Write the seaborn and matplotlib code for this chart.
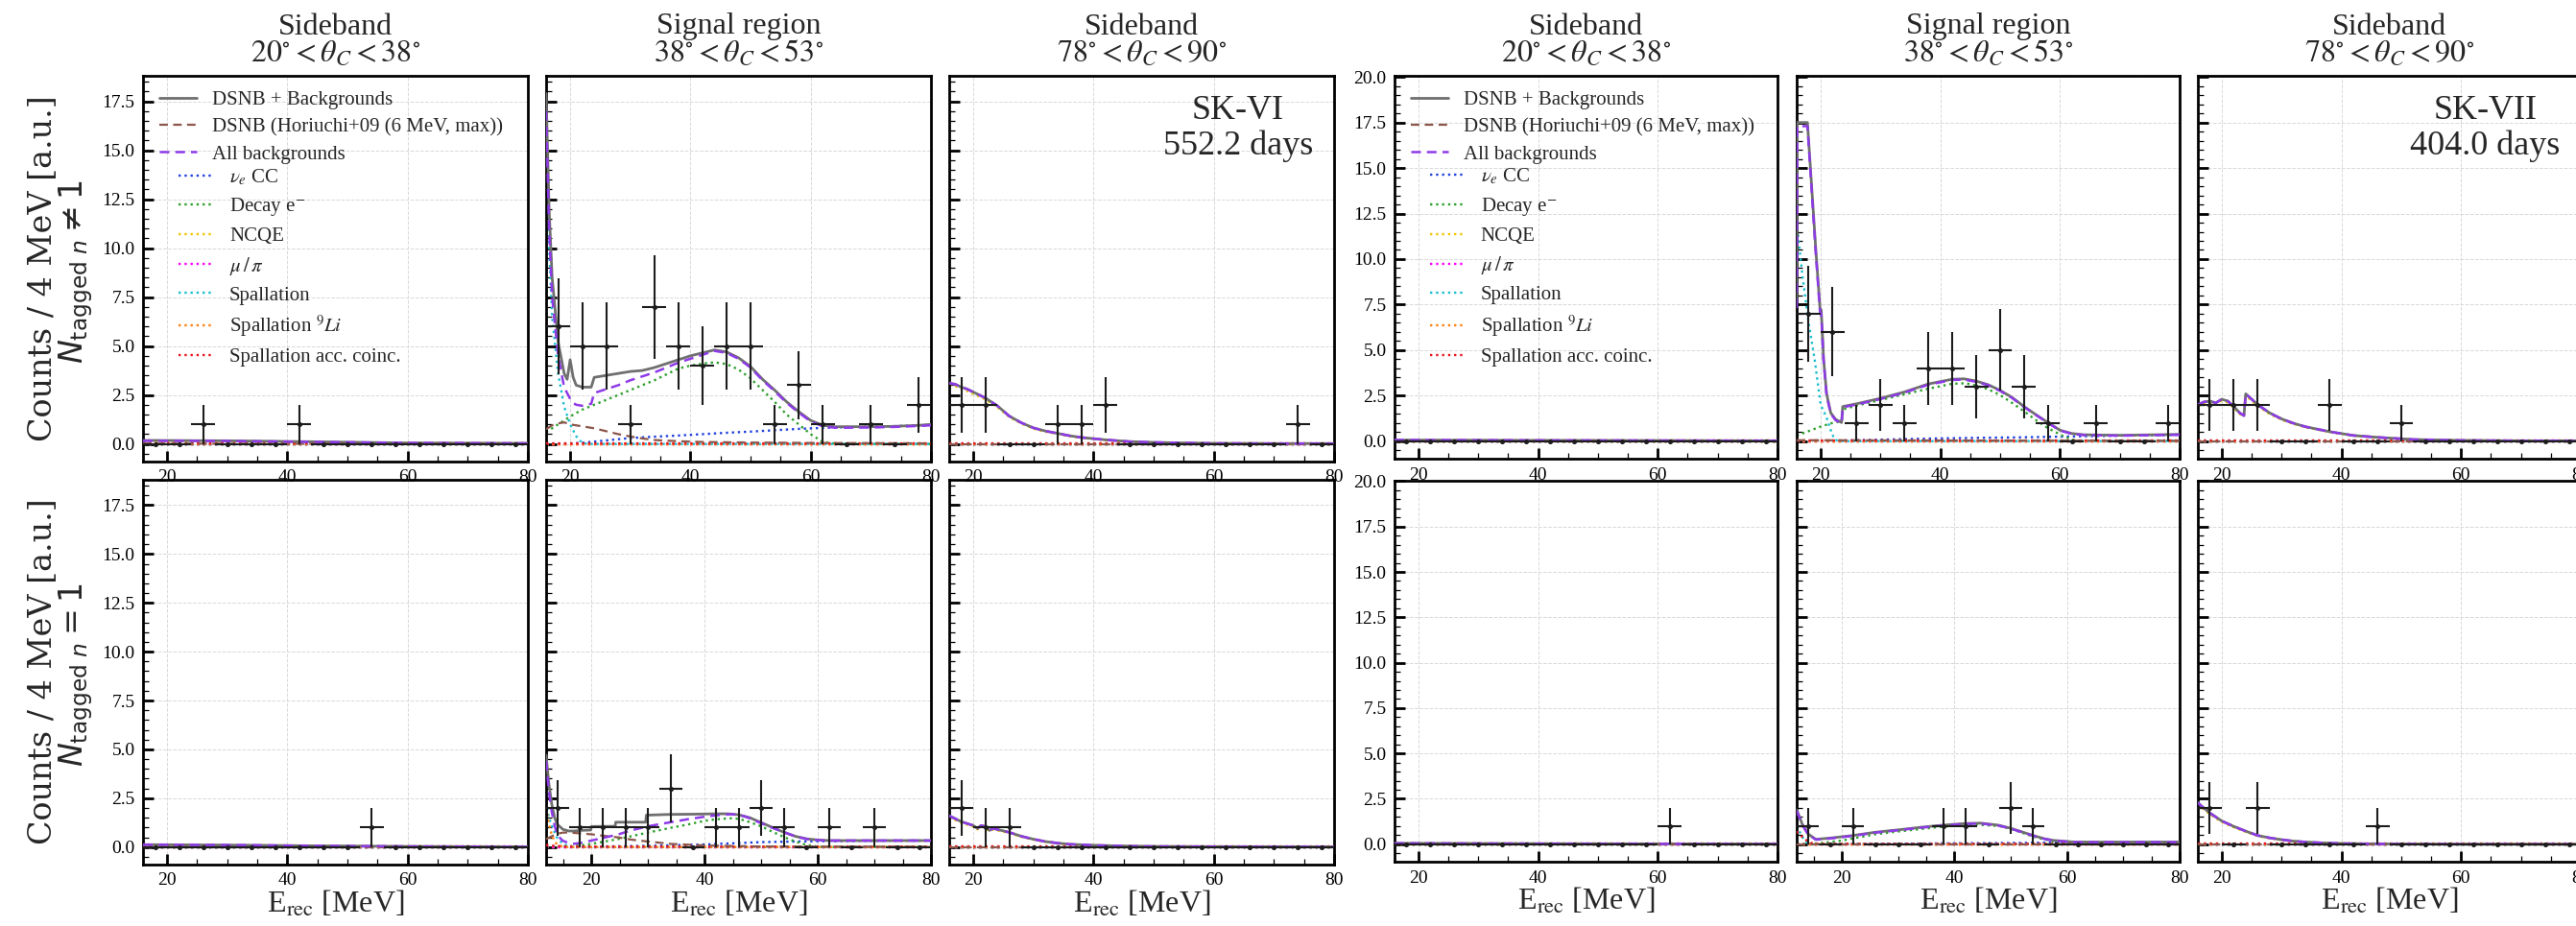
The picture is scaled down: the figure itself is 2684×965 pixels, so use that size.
import numpy as np
import matplotlib
matplotlib.use("Agg")
import matplotlib.pyplot as plt
from matplotlib.ticker import MultipleLocator, FormatStrFormatter
import seaborn as sns

sns.set_theme(style="ticks")
plt.rcParams["font.family"] = ["Liberation Serif", "DejaVu Serif"]
plt.rcParams["mathtext.fontset"] = "stix"

# ---------------- bin centres of the 4 MeV energy bins ----------------
E_BINS = [18, 22, 26, 30, 34, 38, 42, 46, 50, 54, 58, 62, 66, 70, 74, 78]
E_BINS_LOW = [14, 18, 22, 26, 30, 34, 38, 42, 46, 50, 54, 58, 62, 66, 70, 74, 78]

# ---------------- observed counts ----------------
# SK-VI (552.2 days)
sk6_sbA_multi = [0, 0, 1, 0, 0, 0, 1, 0, 0, 0, 0, 0, 0, 0, 0, 0]
sk6_sig_multi = [6, 5, 5, 1, 7, 5, 4, 5, 5, 1, 3, 1, 0, 1, 0, 2]
sk6_sbB_multi = [2, 2, 0, 0, 1, 1, 2, 0, 0, 0, 0, 0, 0, 0, 1, 0]
sk6_sbA_one = [0, 0, 0, 0, 0, 0, 0, 0, 0, 1, 0, 0, 0, 0, 0, 0]
sk6_sig_one = [2, 1, 1, 1, 1, 3, 0, 1, 1, 2, 1, 0, 1, 0, 1, 0, 0]
sk6_sbB_one = [2, 1, 1, 0, 0, 0, 0, 0, 0, 0, 0, 0, 0, 0, 0, 0]
# SK-VII (404.0 days)
sk7_sbA_multi = [0, 0, 0, 0, 0, 0, 0, 0, 0, 0, 0, 0, 0, 0, 0, 0]
sk7_sig_multi = [7, 6, 1, 2, 1, 4, 4, 3, 5, 3, 1, 0, 1, 0, 0, 1]
sk7_sbB_multi = [2, 2, 2, 0, 0, 2, 0, 0, 1, 0, 0, 0, 0, 0, 0, 0]
sk7_sbA_one = [0, 0, 0, 0, 0, 0, 0, 0, 0, 0, 0, 1, 0, 0, 0, 0]
sk7_sig_one = [1, 0, 1, 0, 0, 0, 1, 1, 0, 2, 1, 0, 0, 0, 0, 0, 0]
sk7_sbB_one = [2, 0, 2, 0, 0, 0, 0, 1, 0, 0, 0, 0, 0, 0, 0, 0]

# ---------------- expected spectra ----------------
FLAT_E = [16, 80]
FLAT_E_LOW = [12, 80]
ZERO = [0.0, 0.0]
ACC_LEVEL = [0.03, 0.03]

# SK-VI, sideband 20-38 deg, N_tagged != 1
sk6_sbA_multi_E = [16, 30, 45, 60, 80]
sk6_sbA_multi_bkg = [0.16, 0.15, 0.10, 0.05, 0.03]
sk6_sbA_multi_tot = [0.18, 0.16, 0.11, 0.05, 0.03]
sk6_sbA_multi_ncqe = [0.12, 0.11, 0.08, 0.04, 0.02]
sk6_sbA_multi_dsnb = [0.02, 0.01, 0.01, 0.0, 0.0]

# SK-VI, signal region, N_tagged != 1
sk6_sig_multi_E = [16.0, 16.5, 17.0, 18.0, 19.0, 19.5, 20.0, 20.5, 21.0, 22.0, 23.5, 24.0,
                   26.0, 28.0, 30.0, 32.0, 34.0, 36.0, 38.0, 40.0, 42.0, 44.0, 46.0, 48.0,
                   50.0, 52.0, 54.0, 56.0, 58.0, 60.0, 62.0, 64.0, 66.0, 70.0, 74.0, 78.0, 80.0]
sk6_sig_multi_tot = [17.9, 12.0, 8.5, 5.2, 3.6, 3.3, 4.3, 3.4, 3.0, 2.9, 2.9, 3.4,
                     3.5, 3.6, 3.7, 3.75, 3.9, 4.1, 4.3, 4.5, 4.65, 4.8, 4.7, 4.4,
                     3.95, 3.3, 2.75, 2.15, 1.65, 1.2, 0.95, 0.88, 0.88, 0.88, 0.9, 0.95, 1.0]
sk6_sig_multi_bkg = [17.0, 11.0, 7.5, 4.5, 2.9, 2.6, 2.3, 2.1, 2.0, 1.95, 2.05, 2.6,
                     2.8, 3.0, 3.25, 3.45, 3.65, 3.9, 4.15, 4.35, 4.55, 4.75, 4.65, 4.35,
                     3.9, 3.25, 2.7, 2.1, 1.6, 1.15, 0.9, 0.83, 0.83, 0.84, 0.87, 0.92, 0.95]
sk6_sig_multi_dsnb_E = [16, 17, 18, 19, 20, 22, 24, 26, 28, 30, 32, 34, 38, 42, 50, 60, 70, 80]
sk6_sig_multi_dsnb = [0.75, 0.95, 1.05, 1.1, 1.0, 0.9, 0.8, 0.65, 0.5, 0.38, 0.28, 0.2,
                      0.14, 0.1, 0.07, 0.05, 0.04, 0.03]
sk6_sig_multi_spall_E = [16.0, 16.5, 17.0, 18.0, 19.0, 20.0, 21.0, 22.0, 23.0, 80.0]
sk6_sig_multi_spall = [16.5, 10.0, 6.5, 3.6, 1.9, 1.0, 0.4, 0.05, 0.0, 0.0]
sk6_sig_multi_decay_E = [16, 18, 20, 22, 24, 26, 28, 30, 32, 34, 36, 38, 40, 42, 44, 46, 48,
                         50, 52, 54, 56, 58, 60, 62, 64, 66, 80]
sk6_sig_multi_decay = [0.6, 1.0, 1.4, 1.75, 2.0, 2.25, 2.5, 2.75, 3.0, 3.25, 3.55, 3.85, 4.0,
                       4.1, 4.17, 4.08, 3.8, 3.35, 2.75, 2.15, 1.5, 1.0, 0.5, 0.1, 0.02, 0.0, 0.0]
sk6_sig_multi_nue_E = [16, 20, 22, 26, 30, 34, 38, 42, 46, 50, 54, 58, 62, 66, 70, 74, 78, 80]
sk6_sig_multi_nue = [0.0, 0.02, 0.06, 0.18, 0.3, 0.37, 0.43, 0.5, 0.57, 0.63, 0.7, 0.77,
                     0.82, 0.86, 0.88, 0.91, 0.95, 0.97]

# SK-VI, sideband 78-90 deg, N_tagged != 1
sk6_sbB_multi_E = [16, 17, 18, 19, 20, 21, 22, 23, 24, 26, 28, 30, 32, 34, 36, 38, 40, 42,
                   46, 50, 55, 60, 70, 80]
sk6_sbB_multi_bkg = [3.1, 3.05, 2.9, 2.8, 2.65, 2.5, 2.35, 2.15, 1.95, 1.42, 1.08, 0.82,
                     0.66, 0.54, 0.42, 0.33, 0.27, 0.21, 0.12, 0.08, 0.05, 0.03, 0.02, 0.02]
sk6_sbB_multi_ncqe = [3.0, 2.95, 2.8, 2.7, 2.55, 2.42, 2.27, 2.08, 1.88, 1.37, 1.04, 0.78,
                      0.62, 0.51, 0.4, 0.31, 0.25, 0.19, 0.11, 0.07, 0.04, 0.02, 0.01, 0.01]

# SK-VI, sideband 20-38 deg, N_tagged = 1
sk6_sbA_one_E = [16, 30, 45, 60, 80]
sk6_sbA_one_bkg = [0.12, 0.10, 0.06, 0.03, 0.01]
sk6_sbA_one_ncqe = [0.09, 0.07, 0.04, 0.02, 0.01]

# SK-VI, signal region, N_tagged = 1
sk6_sig_one_E = [12.0, 12.5, 13.0, 13.5, 14.0, 15.0, 16.0, 17.0, 18.0, 19.9, 20.0, 24.2,
                 24.3, 29.6, 29.7, 34.0, 38.0, 42.0, 44.0, 45.0, 46.0, 48.0, 50.0, 52.0,
                 54.0, 56.0, 58.0, 60.0, 62.0, 70.0, 80.0]
sk6_sig_one_tot = [4.7, 3.2, 2.2, 1.5, 1.15, 0.9, 0.82, 0.82, 0.85, 0.87, 1.05, 1.06,
                   1.27, 1.27, 1.63, 1.67, 1.68, 1.7, 1.7, 1.68, 1.65, 1.5, 1.25, 1.0,
                   0.76, 0.55, 0.42, 0.36, 0.33, 0.33, 0.33]
sk6_sig_one_bkg_E = [12.0, 12.5, 13.0, 13.5, 14.0, 14.9, 16.0, 16.7, 18.0, 20.0, 22.0, 24.8,
                     27.0, 30.0, 34.0, 37.0, 40.0, 42.0, 44.6, 46.0, 47.3, 50.0, 52.0, 54.2,
                     56.0, 58.0, 60.0, 62.0, 80.0]
sk6_sig_one_bkg = [4.4, 2.8, 1.8, 1.1, 0.6, 0.33, 0.2, 0.16, 0.2, 0.33, 0.46, 0.65,
                   0.85, 1.06, 1.27, 1.42, 1.55, 1.62, 1.68, 1.65, 1.55, 1.22, 0.98, 0.74,
                   0.55, 0.41, 0.35, 0.33, 0.33]
sk6_sig_one_dsnb_E = [12, 13, 14, 15, 16, 17, 18, 20, 22, 24.8, 27, 30, 34, 40, 49, 60, 80]
sk6_sig_one_dsnb = [0.41, 0.55, 0.68, 0.74, 0.74, 0.72, 0.7, 0.65, 0.58, 0.49, 0.38, 0.28,
                    0.16, 0.08, 0.03, 0.02, 0.01]
sk6_sig_one_decay_E = [12, 16, 18, 20, 22, 24.8, 27, 30, 34, 37, 40, 42, 44.6, 46, 47.3, 50,
                       52, 54.2, 56, 58, 60, 62, 80]
sk6_sig_one_decay = [0.0, 0.03, 0.08, 0.16, 0.26, 0.41, 0.55, 0.74, 0.98, 1.15, 1.34, 1.42,
                     1.47, 1.44, 1.34, 1.06, 0.78, 0.49, 0.28, 0.11, 0.02, 0.0, 0.0]
sk6_sig_one_nue_E = [12, 20, 30, 40, 50, 58, 70, 80]
sk6_sig_one_nue = [0.0, 0.02, 0.06, 0.13, 0.25, 0.29, 0.32, 0.33]
sk6_sig_one_li9_E = [12.0, 12.5, 13.0, 13.5, 14.0, 15.0, 16.0, 80.0]
sk6_sig_one_li9 = [2.0, 1.2, 0.6, 0.3, 0.1, 0.02, 0.0, 0.0]
sk6_sig_one_spall_E = [12.0, 12.5, 13.0, 13.5, 14.0, 15.0, 16.0, 17.0, 80.0]
sk6_sig_one_spall = [2.3, 1.5, 1.1, 0.75, 0.45, 0.15, 0.05, 0.0, 0.0]
sk6_sig_one_acc_E = [12, 14, 16, 80]
sk6_sig_one_acc = [0.1, 0.05, 0.02, 0.02]

# SK-VI, sideband 78-90 deg, N_tagged = 1
sk6_sbB_one_E = [16, 17, 18, 19, 20, 20.7, 21.3, 22, 22.7, 23.3, 24, 26, 28, 30, 32, 34, 36,
                 40, 45, 50, 60, 80]
sk6_sbB_one_bkg = [1.6, 1.45, 1.3, 1.2, 1.1, 0.95, 1.1, 1.05, 0.85, 0.95, 0.9, 0.75, 0.55,
                   0.4, 0.28, 0.2, 0.14, 0.09, 0.05, 0.03, 0.02, 0.01]
sk6_sbB_one_ncqe = [1.52, 1.38, 1.24, 1.14, 1.04, 0.9, 1.04, 0.99, 0.8, 0.9, 0.85, 0.71,
                    0.52, 0.38, 0.26, 0.19, 0.13, 0.08, 0.04, 0.02, 0.01, 0.0]

# SK-VII, sideband 20-38 deg, N_tagged != 1
sk7_sbA_multi_E = [16, 40, 80]
sk7_sbA_multi_bkg = [0.06, 0.04, 0.02]

# SK-VII, signal region, N_tagged != 1
sk7_sig_multi_E = [16.0, 16.1, 17.8, 18.5, 19.2, 19.9, 20.1, 20.5, 21.0, 21.7, 22.5, 23.5,
                   23.7, 26.0, 30.0, 34.0, 38.0, 42.0, 44.0, 46.0, 48.0, 50.0, 52.0, 54.0,
                   56.0, 58.0, 60.0, 62.0, 64.0, 70.0, 80.0]
sk7_sig_multi_tot = [7.5, 17.5, 17.5, 14.0, 10.5, 7.3, 7.2, 4.5, 2.6, 1.55, 1.2, 1.02,
                     1.9, 2.05, 2.35, 2.7, 3.14, 3.4, 3.42, 3.3, 3.1, 2.79, 2.4, 1.9,
                     1.45, 1.02, 0.6, 0.42, 0.35, 0.32, 0.37]
sk7_sig_multi_bkg = [7.3, 17.3, 17.3, 13.8, 10.3, 7.1, 7.0, 4.4, 2.5, 1.5, 1.15, 0.98,
                     1.86, 2.01, 2.31, 2.66, 3.1, 3.36, 3.38, 3.26, 3.07, 2.76, 2.37, 1.88,
                     1.43, 1.0, 0.58, 0.4, 0.33, 0.3, 0.35]
sk7_sig_multi_spall_E = [16.0, 17.0, 18.0, 19.0, 20.0, 21.0, 21.7, 22.3, 23.0, 80.0]
sk7_sig_multi_spall = [12.0, 9.0, 6.5, 4.5, 2.0, 1.3, 0.6, 0.1, 0.0, 0.0]
sk7_sig_multi_decay_E = [16, 18, 20, 22, 23.5, 23.8, 26, 30, 34, 38, 42, 44.3, 46, 48, 50,
                         52, 54, 56, 58, 60.8, 62.5, 64, 80]
sk7_sig_multi_decay = [0.3, 0.55, 0.8, 1.0, 1.1, 1.75, 1.95, 2.26, 2.57, 2.88, 3.15, 3.18,
                       3.05, 2.85, 2.53, 2.1, 1.64, 1.15, 0.71, 0.23, 0.05, 0.0, 0.0]
sk7_sig_multi_nue_E = [16, 22, 30, 38, 46, 54, 62, 70, 80]
sk7_sig_multi_nue = [0.0, 0.02, 0.08, 0.14, 0.18, 0.21, 0.26, 0.3, 0.35]
sk7_sig_multi_dsnb_E = [16, 30, 50, 80]
sk7_sig_multi_dsnb = [0.05, 0.04, 0.03, 0.02]

# SK-VII, sideband 78-90 deg, N_tagged != 1
sk7_sbB_multi_E = [16, 17, 18, 19, 20, 21, 22, 23, 23.7, 24.0, 26, 28, 30, 32, 34, 38, 42,
                   46, 52, 60, 70, 80]
sk7_sbB_multi_bkg = [2.0, 2.15, 2.2, 2.1, 2.3, 2.2, 1.9, 1.55, 1.4, 2.6, 2.0, 1.55, 1.22,
                     0.98, 0.79, 0.52, 0.31, 0.21, 0.09, 0.04, 0.02, 0.02]
sk7_sbB_multi_ncqe = [1.92, 2.07, 2.12, 2.02, 2.21, 2.12, 1.83, 1.49, 1.35, 2.5, 1.93, 1.49,
                      1.17, 0.94, 0.76, 0.5, 0.3, 0.2, 0.08, 0.03, 0.01, 0.01]

# SK-VII, sideband 20-38 deg, N_tagged = 1
sk7_sbA_one_E = [16, 40, 80]
sk7_sbA_one_bkg = [0.05, 0.03, 0.01]

# SK-VII, signal region, N_tagged = 1
sk7_sig_one_E = [12, 13, 14, 15.4, 18, 22, 26, 30, 34, 38, 42, 44.7, 47.8, 50, 52, 54, 56,
                 57.6, 61.2, 70, 80]
sk7_sig_one_tot = [1.9, 1.1, 0.57, 0.27, 0.34, 0.48, 0.66, 0.79, 0.93, 1.05, 1.14, 1.16,
                   1.05, 0.88, 0.68, 0.48, 0.3, 0.21, 0.12, 0.12, 0.12]
sk7_sig_one_bkg = [1.85, 1.07, 0.55, 0.25, 0.32, 0.46, 0.64, 0.77, 0.91, 1.03, 1.12, 1.14,
                   1.03, 0.86, 0.66, 0.46, 0.29, 0.2, 0.11, 0.11, 0.11]
sk7_sig_one_decay_E = [12, 16, 20, 26, 30, 38, 44, 48, 50, 54, 58, 60, 80]
sk7_sig_one_decay = [0.0, 0.05, 0.2, 0.55, 0.7, 0.97, 1.08, 1.0, 0.85, 0.42, 0.12, 0.03, 0.0]
sk7_sig_one_acc_E = [12, 13, 14, 15, 80]
sk7_sig_one_acc = [0.7, 0.4, 0.15, 0.02, 0.02]
sk7_sig_one_spall_E = [12, 13, 14, 80]
sk7_sig_one_spall = [1.0, 0.4, 0.0, 0.0]
sk7_sig_one_nue_E = [12, 30, 50, 62, 80]
sk7_sig_one_nue = [0.0, 0.03, 0.07, 0.1, 0.12]

# SK-VII, sideband 78-90 deg, N_tagged = 1
sk7_sbB_one_E = [16, 16.4, 18, 20, 22, 24, 26, 28, 30, 32, 34, 37, 40, 45, 50, 60, 80]
sk7_sbB_one_bkg = [2.3, 2.16, 1.72, 1.28, 0.98, 0.72, 0.48, 0.35, 0.25, 0.17, 0.12, 0.07,
                   0.04, 0.02, 0.01, 0.0, 0.0]
sk7_sbB_one_ncqe = [2.22, 2.08, 1.65, 1.22, 0.93, 0.68, 0.45, 0.33, 0.23, 0.16, 0.11, 0.06,
                    0.03, 0.02, 0.01, 0.0, 0.0]

# ---------------- styles ----------------
ORDER = ["total", "dsnb", "bkg", "nue", "decay", "ncqe", "mupi", "spall", "li9", "acc"]
LABELS = {
    "total": "DSNB + Backgrounds",
    "dsnb": "DSNB (Horiuchi+09 (6 MeV, max))",
    "bkg": "All backgrounds",
    "nue": r"$\nu_e$ CC",
    "decay": r"Decay e$^{-}$",
    "ncqe": "NCQE",
    "mupi": r"$\mu\,/\,\pi$",
    "spall": "Spallation",
    "li9": r"Spallation $^{9}Li$",
    "acc": "Spallation acc. coinc.",
}
STYLES = {
    "total": dict(color="#6f6f6f", linestyle="-", linewidth=2.0, zorder=3),
    "dsnb": dict(color="#8c564b", linestyle=(0, (4, 2.5)), linewidth=1.6, zorder=3),
    "bkg": dict(color="#8e3ae8", linestyle=(0, (4, 2.5)), linewidth=1.8, zorder=3.5),
    "nue": dict(color="#2040e0", linestyle=":", linewidth=1.7, zorder=2.5),
    "decay": dict(color="#2ca02c", linestyle=":", linewidth=1.7, zorder=2.5),
    "ncqe": dict(color="#f2c500", linestyle=":", linewidth=1.7, zorder=2.5),
    "mupi": dict(color="#ff00ff", linestyle=":", linewidth=1.7, zorder=2.5),
    "spall": dict(color="#17becf", linestyle=":", linewidth=1.7, zorder=2.5),
    "li9": dict(color="#ff7f0e", linestyle=":", linewidth=1.7, zorder=2.5),
    "acc": dict(color="#e8141c", linestyle=":", linewidth=1.7, zorder=2.6),
}

TITLE_TOP = ["Sideband", "Signal region", "Sideband"]
TITLE_BOTTOM = [r"$20^{\circ} < \theta_C < 38^{\circ}$",
                r"$38^{\circ} < \theta_C < 53^{\circ}$",
                r"$78^{\circ} < \theta_C < 90^{\circ}$"]

# ---------------- panel definitions ----------------
panels = [
    # SK-VI
    dict(fig=0, row=0, col=0, xlim=(16, 80), bins=E_BINS, counts=sk6_sbA_multi,
         curves={"total": (sk6_sbA_multi_E, sk6_sbA_multi_tot),
                 "bkg": (sk6_sbA_multi_E, sk6_sbA_multi_bkg),
                 "ncqe": (sk6_sbA_multi_E, sk6_sbA_multi_ncqe),
                 "dsnb": (sk6_sbA_multi_E, sk6_sbA_multi_dsnb),
                 "acc": (FLAT_E, ACC_LEVEL)}),
    dict(fig=0, row=0, col=1, xlim=(16, 80), bins=E_BINS, counts=sk6_sig_multi,
         curves={"total": (sk6_sig_multi_E, sk6_sig_multi_tot),
                 "bkg": (sk6_sig_multi_E, sk6_sig_multi_bkg),
                 "dsnb": (sk6_sig_multi_dsnb_E, sk6_sig_multi_dsnb),
                 "spall": (sk6_sig_multi_spall_E, sk6_sig_multi_spall),
                 "decay": (sk6_sig_multi_decay_E, sk6_sig_multi_decay),
                 "nue": (sk6_sig_multi_nue_E, sk6_sig_multi_nue),
                 "acc": (FLAT_E, ACC_LEVEL)}),
    dict(fig=0, row=0, col=2, xlim=(16, 80), bins=E_BINS, counts=sk6_sbB_multi,
         curves={"total": (sk6_sbB_multi_E, sk6_sbB_multi_bkg),
                 "bkg": (sk6_sbB_multi_E, sk6_sbB_multi_bkg),
                 "ncqe": (sk6_sbB_multi_E, sk6_sbB_multi_ncqe),
                 "acc": (FLAT_E, ACC_LEVEL)},
         tag="SK-VI\n552.2 days"),
    dict(fig=0, row=1, col=0, xlim=(16, 80), bins=E_BINS, counts=sk6_sbA_one,
         curves={"total": (sk6_sbA_one_E, sk6_sbA_one_bkg),
                 "bkg": (sk6_sbA_one_E, sk6_sbA_one_bkg),
                 "ncqe": (sk6_sbA_one_E, sk6_sbA_one_ncqe),
                 "acc": (FLAT_E, ACC_LEVEL)}),
    dict(fig=0, row=1, col=1, xlim=(12, 80), bins=E_BINS_LOW, counts=sk6_sig_one,
         curves={"total": (sk6_sig_one_E, sk6_sig_one_tot),
                 "bkg": (sk6_sig_one_bkg_E, sk6_sig_one_bkg),
                 "dsnb": (sk6_sig_one_dsnb_E, sk6_sig_one_dsnb),
                 "decay": (sk6_sig_one_decay_E, sk6_sig_one_decay),
                 "nue": (sk6_sig_one_nue_E, sk6_sig_one_nue),
                 "li9": (sk6_sig_one_li9_E, sk6_sig_one_li9),
                 "spall": (sk6_sig_one_spall_E, sk6_sig_one_spall),
                 "acc": (sk6_sig_one_acc_E, sk6_sig_one_acc)}),
    dict(fig=0, row=1, col=2, xlim=(16, 80), bins=E_BINS, counts=sk6_sbB_one,
         curves={"total": (sk6_sbB_one_E, sk6_sbB_one_bkg),
                 "bkg": (sk6_sbB_one_E, sk6_sbB_one_bkg),
                 "ncqe": (sk6_sbB_one_E, sk6_sbB_one_ncqe),
                 "acc": (FLAT_E, ACC_LEVEL)}),
    # SK-VII
    dict(fig=1, row=0, col=0, xlim=(16, 80), bins=E_BINS, counts=sk7_sbA_multi,
         curves={"total": (sk7_sbA_multi_E, sk7_sbA_multi_bkg),
                 "bkg": (sk7_sbA_multi_E, sk7_sbA_multi_bkg),
                 "acc": (FLAT_E, ACC_LEVEL)}),
    dict(fig=1, row=0, col=1, xlim=(16, 80), bins=E_BINS, counts=sk7_sig_multi,
         curves={"total": (sk7_sig_multi_E, sk7_sig_multi_tot),
                 "bkg": (sk7_sig_multi_E, sk7_sig_multi_bkg),
                 "dsnb": (sk7_sig_multi_dsnb_E, sk7_sig_multi_dsnb),
                 "spall": (sk7_sig_multi_spall_E, sk7_sig_multi_spall),
                 "decay": (sk7_sig_multi_decay_E, sk7_sig_multi_decay),
                 "nue": (sk7_sig_multi_nue_E, sk7_sig_multi_nue),
                 "acc": (FLAT_E, ACC_LEVEL)}),
    dict(fig=1, row=0, col=2, xlim=(16, 80), bins=E_BINS, counts=sk7_sbB_multi,
         curves={"total": (sk7_sbB_multi_E, sk7_sbB_multi_bkg),
                 "bkg": (sk7_sbB_multi_E, sk7_sbB_multi_bkg),
                 "ncqe": (sk7_sbB_multi_E, sk7_sbB_multi_ncqe),
                 "acc": (FLAT_E, ACC_LEVEL)},
         tag="SK-VII\n404.0 days"),
    dict(fig=1, row=1, col=0, xlim=(16, 80), bins=E_BINS, counts=sk7_sbA_one,
         curves={"total": (sk7_sbA_one_E, sk7_sbA_one_bkg),
                 "bkg": (sk7_sbA_one_E, sk7_sbA_one_bkg),
                 "acc": (FLAT_E, ACC_LEVEL)}),
    dict(fig=1, row=1, col=1, xlim=(12, 80), bins=E_BINS_LOW, counts=sk7_sig_one,
         curves={"total": (sk7_sig_one_E, sk7_sig_one_tot),
                 "bkg": (sk7_sig_one_E, sk7_sig_one_bkg),
                 "decay": (sk7_sig_one_decay_E, sk7_sig_one_decay),
                 "acc": (sk7_sig_one_acc_E, sk7_sig_one_acc),
                 "spall": (sk7_sig_one_spall_E, sk7_sig_one_spall),
                 "nue": (sk7_sig_one_nue_E, sk7_sig_one_nue)}),
    dict(fig=1, row=1, col=2, xlim=(16, 80), bins=E_BINS, counts=sk7_sbB_one,
         curves={"total": (sk7_sbB_one_E, sk7_sbB_one_bkg),
                 "bkg": (sk7_sbB_one_E, sk7_sbB_one_bkg),
                 "ncqe": (sk7_sbB_one_E, sk7_sbB_one_ncqe),
                 "acc": (FLAT_E, ACC_LEVEL)}),
]

# ---------------- page geometry (pixels) ----------------
W, H = 2684, 965
COLS = [[(149, 550), (569, 970), (989, 1390)],
        [(1453, 1852), (1872, 2271), (2290, 2689)]]
ROWS = [[(79, 481), (500, 901)],
        [(79.3, 478.3), (500.5, 898.3)]]
YLIMS = [(-0.9, 18.8), (-0.98, 20.05)]

fig = plt.figure(figsize=(W / 100, H / 100), dpi=100)
fig.patch.set_facecolor("white")


def add_px_axes(x0, x1, y0, y1):
    return fig.add_axes([x0 / W, 1 - y1 / H, (x1 - x0) / W, (y1 - y0) / H])


for p in panels:
    (x0, x1) = COLS[p["fig"]][p["col"]]
    (y0, y1) = ROWS[p["fig"]][p["row"]]
    ax = add_px_axes(x0, x1, y0, y1)
    ax.set_zorder(3 if p["row"] == 0 else 1)
    ax.set_facecolor("white")

    lo = p["xlim"][0]
    handles = {}
    for key in ORDER:
        if key in p["curves"]:
            e, v = p["curves"][key]
        else:
            e, v = (FLAT_E_LOW if lo < 16 else FLAT_E), ZERO
        sns.lineplot(x=e, y=v, ax=ax, estimator=None, sort=False, legend=False,
                     **STYLES[key])
        handles[key] = ax.lines[-1]

    counts = np.asarray(p["counts"], dtype=float)
    ax.errorbar(p["bins"], counts, xerr=2.0, yerr=np.sqrt(counts), fmt="o", ms=2.6,
                color="#1c1c1c", ecolor="#1c1c1c", elinewidth=1.5, capsize=0, zorder=6)

    ax.set_xlim(*p["xlim"])
    ax.set_ylim(*YLIMS[p["fig"]])
    ax.set_xlabel("")
    ax.set_ylabel("")

    ax.xaxis.set_major_locator(MultipleLocator(20))
    ax.xaxis.set_minor_locator(MultipleLocator(5))
    ax.yaxis.set_major_locator(MultipleLocator(2.5))
    ax.yaxis.set_minor_locator(MultipleLocator(0.5))
    ax.yaxis.set_major_formatter(FormatStrFormatter("%.1f"))
    ax.grid(True, which="major", color="#d8d8d8", linestyle="--", linewidth=0.7)
    ax.set_axisbelow(True)
    ax.tick_params(which="both", direction="in", top=False, right=False,
                   labelsize=14, colors="black")
    ax.tick_params(which="major", length=8, width=2.0, pad=6)
    ax.tick_params(which="minor", length=4, width=0.9)
    if p["col"] != 0:
        ax.tick_params(labelleft=False)
    for s in ax.spines.values():
        s.set_linewidth(2.0)
        s.set_color("black")

    if p["row"] == 0:
        xc = (x0 + x1) / 2 / W
        fig.text(xc, 1 - 28 / H, TITLE_TOP[p["col"]], ha="center", va="center",
                 fontsize=23)
        fig.text(xc, 1 - 56 / H, TITLE_BOTTOM[p["col"]], ha="center", va="center",
                 fontsize=23)
    else:
        ax.set_xlabel(r"E$_{\rm rec}$ [MeV]", fontsize=23, labelpad=0)

    if "tag" in p:
        ax.text(0.75, 0.863, p["tag"], transform=ax.transAxes, ha="center",
                va="center", fontsize=26, linespacing=1.15, zorder=7)

    if p["row"] == 0 and p["col"] == 0:
        first = ["total", "dsnb", "bkg"]
        second = ["nue", "decay", "ncqe", "mupi", "spall", "li9", "acc"]
        leg1 = ax.legend([handles[k] for k in first], [LABELS[k] for k in first],
                         loc="upper left", bbox_to_anchor=(0.042, 0.962), frameon=False,
                         fontsize=15, handlelength=1.9, handletextpad=0.75,
                         labelspacing=0.42, borderpad=0, borderaxespad=0)
        ax.add_artist(leg1)
        ax.legend([handles[k] for k in second], [LABELS[k] for k in second],
                  loc="upper left", bbox_to_anchor=(0.092, 0.763), frameon=False,
                  fontsize=15, handlelength=1.7, handletextpad=0.85,
                  labelspacing=0.45, borderpad=0, borderaxespad=0)

# axis titles on the left of the SK-VI block
fig.text(45 / W, 1 - 280 / H, "Counts / 4 MeV [a.u.]", rotation=90, ha="center",
         va="center", fontsize=24, family="DejaVu Serif")
fig.text(79 / W, 1 - 283 / H, r"$N_{\mathrm{tagged}\ n} \neq 1$", rotation=90,
         ha="center", va="center", fontsize=24, math_fontfamily="dejavusans")
fig.text(45 / W, 1 - 700 / H, "Counts / 4 MeV [a.u.]", rotation=90, ha="center",
         va="center", fontsize=24, family="DejaVu Serif")
fig.text(79 / W, 1 - 703 / H, r"$N_{\mathrm{tagged}\ n} = 1$", rotation=90,
         ha="center", va="center", fontsize=24, math_fontfamily="dejavusans")

fig.savefig("out.png", dpi=100, facecolor="white")
